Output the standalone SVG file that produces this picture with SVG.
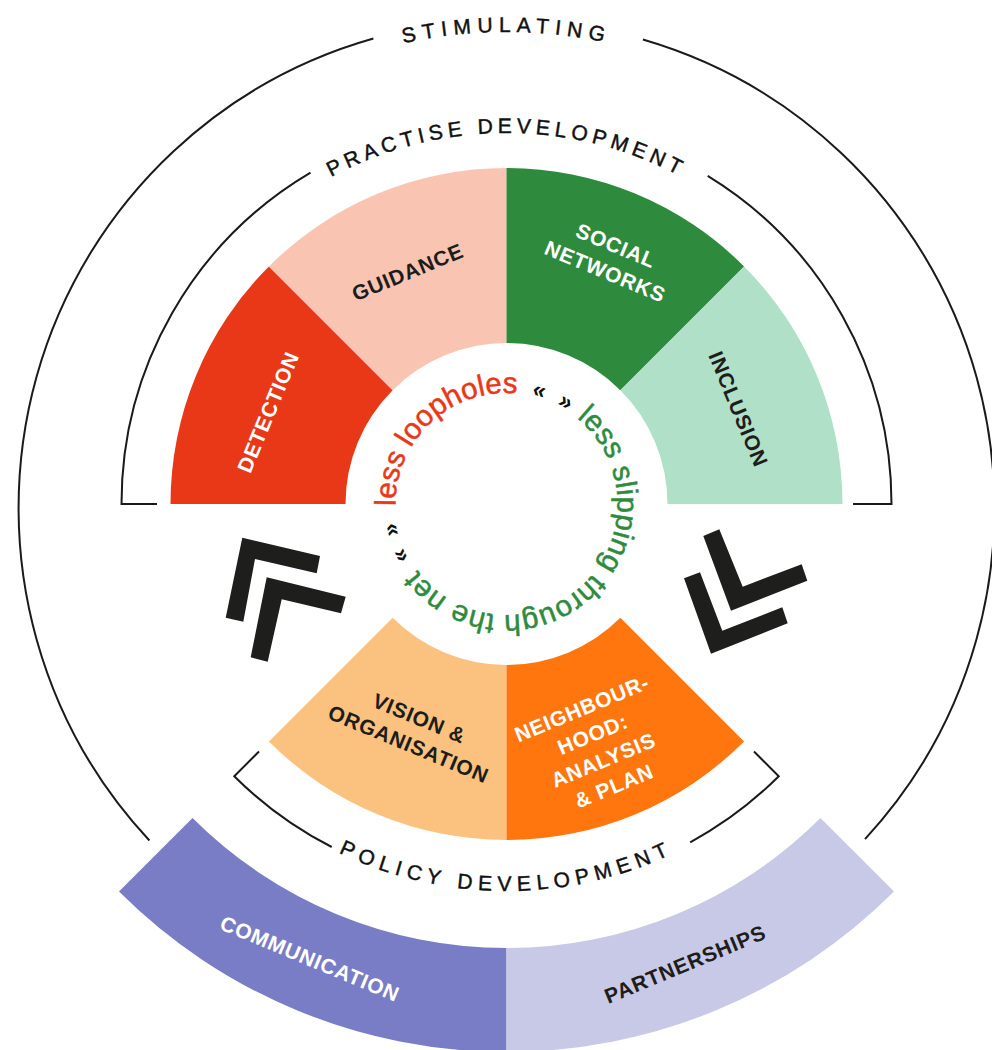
<svg xmlns="http://www.w3.org/2000/svg" width="992" height="1050" viewBox="0 0 992 1050">
<style>
.ring{fill:none;stroke:#1a1a1a;stroke-width:2}
.title{font-family:"Liberation Sans",Arial,sans-serif;font-size:21px;fill:#111;stroke:#111;stroke-width:0.45px}
.lbl{font-family:"Liberation Sans",Arial,sans-serif;font-size:21px;font-weight:bold;letter-spacing:0.8px;text-anchor:middle}
.w{fill:#ffffff}
.d{fill:#1d1d1b}
.mid{font-family:"Liberation Sans",Arial,sans-serif;font-size:29.5px;stroke-width:0.5px}
.q{font-family:"Liberation Sans",Arial,sans-serif;font-size:23px;font-weight:bold;fill:#111}
.chev{fill:#1e1e1c}
</style>
<defs>
<path id="pStim" d="M 30.5,508 A 476 476 0 0 1 982.5,508"/>
<path id="pPrac" d="M 135.5,504 A 371 371 0 0 1 877.5,504"/>
<path id="pPol" d="M 119.5,504 A 387 387 0 0 0 893.5,504"/>
<path id="pCenter" d="M 410.37,559.5 A 111 111 0 1 1 602.63,448.5 A 111 111 0 1 1 410.37,559.5"/>
</defs>
<rect width="992" height="1050" fill="#ffffff"/>

<g id="connectors">
<path class="ring" d="M 149.4,840.5 A 488 488 0 0 1 373.4,38.5"/>
<path class="ring" d="M 642.9,39.5 A 488 488 0 0 1 865,839.1"/>
<path class="ring" d="M 157,504 L 121.5,504 A 385 385 0 0 1 310.5,172.6"/>
<path class="ring" d="M 707.7,175.8 A 385 385 0 0 1 891.5,504 L 853,504"/>
<path class="ring" d="M 259,751.5 L 234.26,776.24 A 385 385 0 0 0 331.7,847"/>
<path class="ring" d="M 690.2,842.3 A 385 385 0 0 0 778.74,776.24 L 754,751.5"/>
<polygon class="chev" points="242.3,537.7 320,556 316.7,573.3 255,559 243.3,621.7 225.7,617.7"/>
<polygon class="chev" points="266.7,577.3 345.7,596.7 341,613.3 281.7,599.3 267.7,661.7 250.7,657.3"/>
<polygon class="chev" points="703.3,536 719.3,529.3 742.7,586.7 801.7,564.3 807.3,580.7 731,610.7"/>
<polygon class="chev" points="684,578.3 700,572.3 722.3,630.7 782.3,607.3 787.7,623.3 711,653.7"/>
</g>

<g id="stimulating">
<text class="title" letter-spacing="6.2"><textPath href="#pStim" startOffset="50%" text-anchor="middle">STIMULATING</textPath></text>
</g>
<g id="practise-development">
<text class="title" letter-spacing="4.8"><textPath href="#pPrac" startOffset="50%" text-anchor="middle">PRACTISE DEVELOPMENT</textPath></text>
</g>
<g id="policy-development">
<text class="title" letter-spacing="5.9"><textPath href="#pPol" startOffset="50%" text-anchor="middle">POLICY DEVELOPMENT</textPath></text>
</g>

<g id="detection">
<path fill="#e93817" d="M 170.5,504 A 336 336 0 0 1 268.91,266.41 L 392.66,390.16 A 161 161 0 0 0 345.5,504 Z"/>
<text class="lbl w" transform="translate(268,412) rotate(-67.5)" y="7.5">DETECTION</text>
</g>
<g id="guidance">
<path fill="#f9c4b2" d="M 268.91,266.41 A 336 336 0 0 1 506.5,168 L 506.5,343 A 161 161 0 0 0 392.66,390.16 Z"/>
<text class="lbl d" transform="translate(407.5,272) rotate(-22.5)" y="7.5">GUIDANCE</text>
</g>
<g id="social-networks">
<path fill="#2e8b3e" d="M 506.5,168 A 336 336 0 0 1 744.09,266.41 L 620.34,390.16 A 161 161 0 0 0 506.5,343 Z"/>
<text class="lbl w" transform="translate(610.7,258.4) rotate(22.5)"><tspan x="0" y="-6.5">SOCIAL</tspan><tspan x="0" y="21.5">NETWORKS</tspan></text>
</g>
<g id="inclusion">
<path fill="#b0e0c8" d="M 744.09,266.41 A 336 336 0 0 1 842.5,504 L 667.5,504 A 161 161 0 0 0 620.34,390.16 Z"/>
<text class="lbl d" transform="translate(738.5,409) rotate(67.5)" y="7.5">INCLUSION</text>
</g>

<g id="vision-organisation">
<path fill="#fac27e" d="M 506.5,840 A 336 336 0 0 1 268.91,741.59 L 392.66,617.84 A 161 161 0 0 0 506.5,665 Z"/>
<text class="lbl d" transform="translate(414,731) rotate(22.5)"><tspan x="0" y="-6.5">VISION &amp;</tspan><tspan x="0" y="21.5">ORGANISATION</tspan></text>
</g>
<g id="neighbourhood">
<path fill="#ff760e" d="M 744.09,741.59 A 336 336 0 0 1 506.5,840 L 506.5,665 A 161 161 0 0 0 620.34,617.84 Z"/>
<text class="lbl w" transform="translate(598,747) rotate(-22.5)"><tspan x="0" y="-34.5">NEIGHBOUR-</tspan><tspan x="0" y="-6.5">HOOD:</tspan><tspan x="0" y="21.5">ANALYSIS</tspan><tspan x="0" y="49.5">&amp; PLAN</tspan></text>
</g>

<g id="communication">
<path fill="#787dc5" d="M 506.5,1052 A 548 548 0 0 1 119.01,891.49 L 192.54,817.96 A 444 444 0 0 0 506.5,948 Z"/>
<text class="lbl w" transform="translate(310,958.5) rotate(22.5)" y="7.5">COMMUNICATION</text>
</g>
<g id="partnerships">
<path fill="#c8c9e7" d="M 893.99,891.49 A 548 548 0 0 1 506.5,1052 L 506.5,948 A 444 444 0 0 0 820.46,817.96 Z"/>
<text class="lbl d" transform="translate(685,964) rotate(-22.5)" y="7.5">PARTNERSHIPS</text>
</g>

<g id="center-slogan">
<text class="mid" fill="#e93817" stroke="#e93817"><textPath href="#pCenter" startOffset="56">less loopholes</textPath></text>
<text class="q"><textPath href="#pCenter" startOffset="263.5" text-anchor="middle">«</textPath></text>
<text class="q"><textPath href="#pCenter" startOffset="290.6" text-anchor="middle">»</textPath></text>
<text class="mid" fill="#2e8b3e" stroke="#2e8b3e" letter-spacing="0.3"><textPath href="#pCenter" startOffset="308">less slipping through the net</textPath></text>
<text class="q"><textPath href="#pCenter" startOffset="7.75" text-anchor="middle">«</textPath></text>
<text class="q"><textPath href="#pCenter" startOffset="33.7" text-anchor="middle">»</textPath></text>
</g>
</svg>
